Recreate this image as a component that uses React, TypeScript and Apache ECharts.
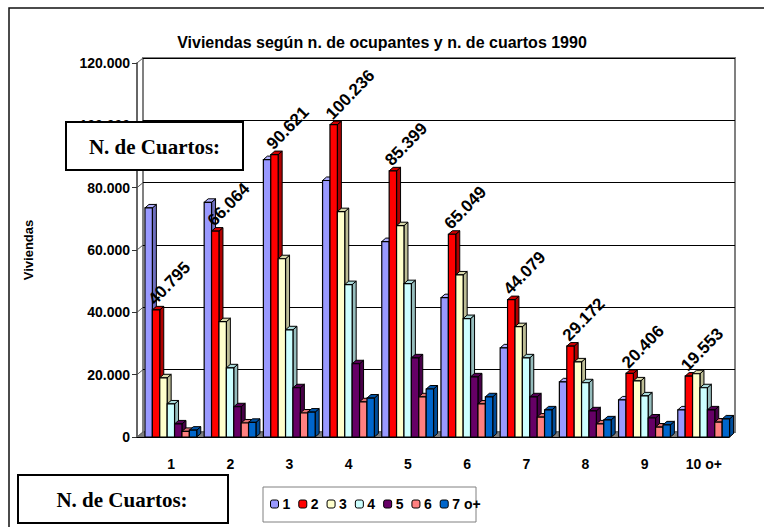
import React, { useEffect, useRef } from "react";
import * as echarts from "echarts";

// Number of occupants (categories)
const categories = ["1", "2", "3", "4", "5", "6", "7", "8", "9", "10 o+"];
// Number of rooms (series)
const seriesNames = ["1", "2", "3", "4", "5", "6", "7 o+"];
const rooms1 = [73500, 75300, 89000, 82300, 62700, 44700, 28600, 17700, 11900, 8700];
const rooms2 = [40795, 66064, 90621, 100236, 85399, 65049, 44079, 29172, 20406, 19553];
const rooms3 = [19000, 37000, 57200, 72300, 67800, 52000, 35400, 24100, 18000, 20300];
const rooms4 = [10600, 22200, 34400, 48900, 49200, 38000, 25400, 17400, 13200, 15800];
const rooms5 = [4200, 9700, 15800, 23500, 25400, 19300, 12900, 8400, 6100, 8700];
const rooms6 = [1800, 4500, 7700, 11300, 12900, 10600, 6400, 4200, 3200, 4800];
const rooms7 = [2200, 4700, 8000, 12500, 15400, 12900, 8700, 5500, 3900, 5800];
const seriesValues = [rooms1, rooms2, rooms3, rooms4, rooms5, rooms6, rooms7];
const yTicks = [0, 20000, 40000, 60000, 80000, 100000, 120000];

const frontColors = ["#9999FF", "#FF0000", "#FFFFCC", "#CCFFFF", "#660066", "#FF8080", "#0066CC"];
const sideColors = ["#6F6FC0", "#B00000", "#BDBD96", "#96BDBD", "#480048", "#C05F5F", "#004C99"];
const topColors = ["#B0B0FF", "#D00000", "#D8D8AA", "#AADADA", "#550055", "#DD7070", "#0055AA"];

const SANS = "'Liberation Sans', Arial, sans-serif";
const SERIF = "'Liberation Serif', 'Times New Roman', serif";

const fmt = (v: number) => {
  const s = Math.round(v).toString();
  return s.replace(/\B(?=(\d{3})+(?!\d))/g, ".");
};

const DX = 4;
const DY = 3.5;

function geom(api: any, k: number) {
  const i = api.value(0);
  const v = api.value(1);
  const top = api.coord([i, v]);
  const base = api.coord([i, 0]);
  const band = api.size([1, 0])[0];
  const w = band * 0.125;
  const start = base[0] - w * 3.5 + band * 0.072;
  const x0 = start + k * w;
  return { x0, x1: x0 + w, w, yt: top[1], yb: base[1] };
}

function barSeries(k: number) {
  return {
    type: "custom",
    name: seriesNames[k],
    xAxisIndex: 0,
    yAxisIndex: 0,
    z: 3,
    itemStyle: { color: frontColors[k], borderColor: "#000", borderWidth: 1 },
    data: seriesValues[k].map((v, i) => [i, v]),
    encode: { x: 0, y: 1 },
    renderItem: (params: any, api: any) => {
      const g = geom(api, k);
      return {
        type: "group",
        children: [
          {
            type: "polygon",
            shape: { points: [[g.x1, g.yt], [g.x1 + DX, g.yt - DY], [g.x1 + DX, g.yb - DY], [g.x1, g.yb]] },
            style: { fill: sideColors[k], stroke: "#000", lineWidth: 1 },
          },
          {
            type: "polygon",
            shape: { points: [[g.x0, g.yt], [g.x0 + DX, g.yt - DY], [g.x1 + DX, g.yt - DY], [g.x1, g.yt]] },
            style: { fill: topColors[k], stroke: "#000", lineWidth: 1 },
          },
          {
            type: "rect",
            shape: { x: g.x0, y: g.yt, width: g.w, height: g.yb - g.yt },
            style: { fill: frontColors[k], stroke: "#000", lineWidth: 1.2 },
          },
        ],
      };
    },
  };
}

const labelSeries = {
  type: "custom",
  name: "labels",
  xAxisIndex: 0,
  yAxisIndex: 0,
  z: 10,
  silent: true,
  data: rooms2.map((v, i) => [i, v]),
  encode: { x: 0, y: 1 },
  renderItem: (params: any, api: any) => {
    const g = geom(api, 1);
    return {
      type: "text",
      x: g.x0 + 5,
      y: g.yt - 2,
      rotation: 0.8,
      style: {
        text: fmt(api.value(1)),
        x: 0,
        y: 0,
        align: "left",
        verticalAlign: "bottom",
        fill: "#000",
        font: `bold 17px ${SANS}`,
      },
    };
  },
};

const wallSeries = {
  type: "custom",
  name: "wall",
  xAxisIndex: 0,
  yAxisIndex: 0,
  z: 1,
  silent: true,
  data: yTicks.map((t) => [0, t]),
  encode: { x: 0, y: 1 },
  renderItem: (params: any, api: any) => {
    const p = api.coord([0, api.value(1)]);
    const left = params.coordSys.x;
    return {
      type: "line",
      shape: { x1: left, y1: p[1], x2: left + 6, y2: p[1] - 5 },
      style: { stroke: "#555", lineWidth: 1 },
    };
  },
};

export default function App() {
  const ref = useRef<HTMLDivElement>(null);
  useEffect(() => {
    if (!ref.current) return;
    const chart = echarts.init(ref.current, undefined, { renderer: "svg" });
    chart.setOption({
      animation: false,
      backgroundColor: "#fff",
      title: {
        text: "Viviendas según n. de ocupantes y n. de cuartos 1990",
        left: "center",
        top: 29,
        textStyle: { fontFamily: SANS, fontWeight: "bold", fontSize: 16, color: "#000" },
      },
      legend: {
        left: 270,
        top: 497,
        padding: 0,
        itemWidth: 8,
        itemHeight: 8,
        itemGap: 8,
        data: seriesNames,
        itemStyle: { borderColor: "#000", borderWidth: 1 },
        textStyle: { fontFamily: SANS, fontWeight: "bold", fontSize: 14, color: "#000", padding: [0, 0, 0, -1] },
      },
      grid: [
        { left: 137, right: 35, top: 63, bottom: 90, containLabel: false },
        { left: 143, right: 29, top: 58, bottom: 95, show: true, borderColor: "#808080", borderWidth: 2, backgroundColor: "#fff" },
      ],
      xAxis: [
        {
          type: "category",
          gridIndex: 0,
          data: categories,
          axisLine: { show: true, lineStyle: { color: "#000", width: 1 } },
          axisTick: { show: false },
          axisLabel: { margin: 20, padding: [0, 0, 0, 9], fontFamily: SANS, fontWeight: "bold", fontSize: 14, color: "#000" },
          z: 5,
        },
        {
          type: "category",
          gridIndex: 1,
          data: categories,
          show: false,
        },
      ],
      yAxis: [
        {
          type: "value",
          gridIndex: 0,
          min: 0,
          max: 120000,
          interval: 20000,
          axisLine: { show: true, lineStyle: { color: "#333", width: 1.5 } },
          axisTick: { show: true, length: 5, lineStyle: { color: "#333" } },
          splitLine: { show: false },
          axisLabel: { margin: 7, formatter: (v: number) => fmt(v), fontFamily: SANS, fontWeight: "bold", fontSize: 14, color: "#000" },
        },
        {
          type: "value",
          gridIndex: 1,
          min: 0,
          max: 120000,
          interval: 20000,
          axisLine: { show: false },
          axisTick: { show: false },
          axisLabel: { show: false },
          splitLine: { show: true, lineStyle: { color: "#000", width: 1 } },
        },
      ],
      graphic: [
        {
          type: "rect",
          z: -10,
          shape: { x: 9, y: 8, width: 800, height: 600 },
          style: { fill: "none", stroke: "#111", lineWidth: 1.5 },
        },
        {
          type: "polygon",
          z: 2,
          shape: { points: [[137, 437], [143, 432], [735, 432], [729, 437]] },
          style: { fill: "#808080", stroke: "#666", lineWidth: 1 },
        },
        {
          type: "text",
          x: 28,
          y: 250,
          rotation: Math.PI / 2,
          style: { text: "Viviendas", x: 0, y: 0, align: "center", verticalAlign: "middle", font: `bold 13px ${SANS}`, fill: "#000" },
        },
        {
          type: "rect",
          z: 100,
          shape: { x: 66, y: 122, width: 177, height: 48 },
          style: { fill: "#fff", stroke: "#000", lineWidth: 2 },
        },
        {
          type: "text",
          z: 101,
          x: 154.5,
          y: 147,
          style: { text: "N. de Cuartos:", x: 0, y: 0, align: "center", verticalAlign: "middle", font: `bold 21px ${SERIF}`, fill: "#000" },
        },
        {
          type: "rect",
          z: 100,
          shape: { x: 18, y: 475, width: 210, height: 48 },
          style: { fill: "#fff", stroke: "#000", lineWidth: 2 },
        },
        {
          type: "text",
          z: 101,
          x: 122,
          y: 500,
          style: { text: "N. de Cuartos:", x: 0, y: 0, align: "center", verticalAlign: "middle", font: `bold 21px ${SERIF}`, fill: "#000" },
        },
        {
          type: "rect",
          z: -5,
          shape: { x: 263, y: 487, width: 213, height: 35 },
          style: { fill: "#fff", stroke: "#808080", lineWidth: 1 },
        },
      ],
      series: [wallSeries, ...seriesNames.map((_, k) => barSeries(k)), labelSeries],
    });
    return () => chart.dispose();
  }, []);
  return <div ref={ref} style={{ position: "fixed", left: 0, top: 0, width: 764, height: 527 }} />;
}
